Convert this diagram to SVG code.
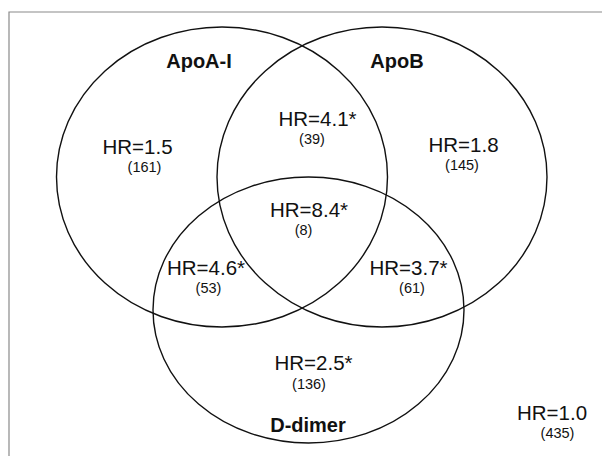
<svg xmlns="http://www.w3.org/2000/svg" width="602" height="456" viewBox="0 0 602 456">
  <style>
    .set { fill: none; stroke: #111; stroke-width: 1.4; }
    .name { font-family: "Liberation Sans", Arial, sans-serif; font-weight: bold; font-size: 20px; fill: #111; text-anchor: middle; }
    .hr { font-family: "Liberation Sans", Arial, sans-serif; font-size: 20.5px; fill: #111; text-anchor: middle; }
    .n { font-family: "Liberation Sans", Arial, sans-serif; font-size: 14.5px; fill: #111; text-anchor: middle; }
  </style>
  <rect width="602" height="456" fill="#fff"/>
  <!-- frame (right and bottom edges fall outside the canvas) -->
  <path d="M9,470 V12 H610" fill="none" stroke="#8a8a8a" stroke-width="1.2"/>

  <!-- set outlines -->
  <g id="connectors">
  </g>
  <g id="apoa1">
    <ellipse class="set" cx="222" cy="177" rx="165.5" ry="150"/>
    <text class="name" x="199" y="68">ApoA-I</text>
  </g>
  <g id="apob">
    <ellipse class="set" cx="382" cy="177" rx="165" ry="150"/>
    <text class="name" x="397" y="68">ApoB</text>
  </g>
  <g id="ddimer">
    <ellipse class="set" cx="308.5" cy="310" rx="155.5" ry="133"/>
    <text class="name" x="308" y="432">D-dimer</text>
  </g>

  <!-- region labels -->
  <g id="only-apoa1">
    <text class="hr" x="137.5" y="154">HR=1.5</text>
    <text class="n" x="144.5" y="172">(161)</text>
  </g>
  <g id="apoa1-apob">
    <text class="hr" x="317.5" y="126">HR=4.1*</text>
    <text class="n" x="312" y="144">(39)</text>
  </g>
  <g id="only-apob">
    <text class="hr" x="463.5" y="152">HR=1.8</text>
    <text class="n" x="462" y="170">(145)</text>
  </g>
  <g id="all-three">
    <text class="hr" x="309" y="217">HR=8.4*</text>
    <text class="n" x="303.5" y="235">(8)</text>
  </g>
  <g id="apoa1-ddimer">
    <text class="hr" x="206" y="275">HR=4.6*</text>
    <text class="n" x="208.5" y="293">(53)</text>
  </g>
  <g id="apob-ddimer">
    <text class="hr" x="408.5" y="275">HR=3.7*</text>
    <text class="n" x="412" y="293">(61)</text>
  </g>
  <g id="only-ddimer">
    <text class="hr" x="313.5" y="370">HR=2.5*</text>
    <text class="n" x="309" y="389">(136)</text>
  </g>
  <g id="none">
    <text class="hr" x="552" y="420">HR=1.0</text>
    <text class="n" x="557.5" y="438">(435)</text>
  </g>
</svg>
